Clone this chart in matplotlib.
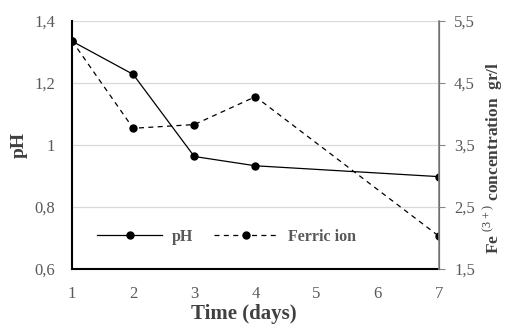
import matplotlib.pyplot as plt

plt.rcParams['font.family'] = ['Liberation Serif', 'DejaVu Serif']
plt.rcParams['mathtext.fontset'] = 'custom'
plt.rcParams['mathtext.rm'] = 'Liberation Serif'
plt.rcParams['mathtext.bf'] = 'Liberation Serif:bold'

days = [1, 2, 3, 4, 7]
ph = [1.335, 1.228, 0.963, 0.933, 0.898]
ferric = [5.18, 3.77, 3.83, 4.28, 2.03]

gray = '#595959'

fig = plt.figure(figsize=(5.05, 3.24), dpi=100)
ax = fig.add_axes([0.1426, 0.1698, 0.7264, 0.7652])
ax2 = ax.twinx()

l1, = ax.plot(days, ph, color='black', lw=0.9, marker='o', ms=5, label='pH')
l2, = ax2.plot(days, ferric, color='black', lw=0.9, ls=(0, (4, 3.5)), marker='o', ms=5,
               label='Ferric ion')

ax.set_xlim(1, 7)
ax.set_ylim(0.6, 1.4)
ax2.set_ylim(1.5, 5.5)
ax.set_xticks(range(1, 8))
ax.set_yticks([0.6, 0.8, 1.0, 1.2, 1.4])
ax.set_yticklabels(['0,6', '0,8', '1', '1,2', '1,4'])
ax2.set_yticks([1.5, 2.5, 3.5, 4.5, 5.5])
ax2.set_yticklabels(['1,5', '2,5', '3,5', '4,5', '5,5'])

ax.grid(axis='y', color='#d9d9d9', lw=0.9)
ax.set_axisbelow(True)

for a in (ax, ax2):
    a.spines['top'].set_visible(False)
    a.tick_params(colors=gray, labelsize=12)
ax.spines['left'].set_linewidth(1.5)
ax.spines['bottom'].set_linewidth(1.5)
ax2.spines['left'].set_visible(False)
ax2.spines['bottom'].set_visible(False)
ax2.spines['right'].set_color('#868686')
ax2.spines['right'].set_linewidth(1.2)
ax.tick_params(axis='x', length=0, pad=12)
ax.tick_params(axis='y', length=0, pad=12)
ax2.tick_params(axis='y', length=4, color='#868686', pad=7)

ax.set_xlabel('Time (days)', fontsize=15, fontweight='bold', color='#404040')
ax.xaxis.set_label_coords(0.469, -0.14)
ax.set_ylabel('pH', fontsize=14, fontweight='bold', color='#404040')
ax.yaxis.set_label_coords(-0.12, 0.5)
ax2.set_ylabel(r'Fe $^{\mathrm{(3+)}}$ concentration  gr/l', fontsize=12.5, fontweight='bold',
               color='#404040', rotation=90)
ax2.yaxis.set_label_coords(1.118, 0.45)

leg = ax.legend(handles=[l1, l2], loc='center left', bbox_to_anchor=(0.068, 0.129), ncol=2,
                frameon=False, handlelength=4.1, handletextpad=0.56, columnspacing=1.3,
                borderpad=0, borderaxespad=0, prop={'weight': 'bold', 'size': 11.5})
for t in leg.get_texts():
    t.set_color(gray)

fig.savefig('out.png', dpi=100)
